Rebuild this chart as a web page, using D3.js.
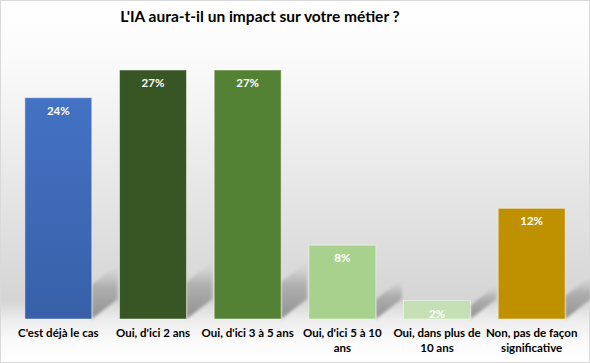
<!DOCTYPE html>
<html>
<head>
<meta charset="utf-8">
<script src="https://cdn.jsdelivr.net/npm/d3@7"></script>
<style>
  body { margin: 0; background: #fff; }
  svg { display: block; font-family: Lato, "Open Sans", sans-serif; }
</style>
</head>
<body>
<svg id="chart" width="590" height="363"></svg>
<script>
// data
var categories = ["C'est déjà le cas", "Oui, d'ici 2 ans", "Oui, d'ici 3 à 5 ans",
                  "Oui, d'ici 5 à 10 ans", "Oui, dans plus de 10 ans", "Non, pas de façon significative"];
var labelLines = [["C'est déjà le cas"], ["Oui, d'ici 2 ans"], ["Oui, d'ici 3 à 5 ans"],
                  ["Oui, d'ici 5 à 10", "ans"], ["Oui, dans plus de", "10 ans"], ["Non, pas de façon", "significative"]];
var values = [24, 27, 27, 8, 2, 12];
var colors = ["#4472c4", "#375623", "#548235", "#a9d18e", "#c5e0b4", "#bf9000"];
var bottomColors = ["#3760a8", "#375623", "#548235", "#a9d18e", "#c5e0b4", "#bf9000"];

var W = 590, H = 363;
var svg = d3.select("#chart");
var defs = svg.append("defs");

// background gradient (light top, grey toward floor, light under bars)
var bg = defs.append("linearGradient").attr("id", "bg")
    .attr("x1", 0).attr("y1", 0).attr("x2", 0).attr("y2", 1);
bg.append("stop").attr("offset", 0).attr("stop-color", "#ffffff");
bg.append("stop").attr("offset", 0.15).attr("stop-color", "#fbfbfb");
bg.append("stop").attr("offset", 0.83).attr("stop-color", "#d5d5d5");
bg.append("stop").attr("offset", 0.88).attr("stop-color", "#ececec");
bg.append("stop").attr("offset", 0.94).attr("stop-color", "#fafafa");
bg.append("stop").attr("offset", 1).attr("stop-color", "#ffffff");

var sh = defs.append("linearGradient").attr("id", "shadow")
    .attr("x1", 0).attr("y1", 1).attr("x2", 0).attr("y2", 0);
sh.append("stop").attr("offset", 0).attr("stop-color", "#8f8f8f").attr("stop-opacity", 1);
sh.append("stop").attr("offset", 0.6).attr("stop-color", "#a5a5a5").attr("stop-opacity", 0.8);
sh.append("stop").attr("offset", 1).attr("stop-color", "#bdbdbd").attr("stop-opacity", 0);

defs.append("filter").attr("id", "blur")
    .append("feGaussianBlur").attr("stdDeviation", 1.5);

colors.forEach(function(c, i) {
    var g = defs.append("linearGradient").attr("id", "bar" + i)
        .attr("x1", 0).attr("y1", 0).attr("x2", 0).attr("y2", 1);
    g.append("stop").attr("offset", 0).attr("stop-color", c);
    g.append("stop").attr("offset", 1).attr("stop-color", bottomColors[i]);
});

svg.append("rect").attr("x", 0.5).attr("y", 0.5)
    .attr("width", W - 1).attr("height", H - 1)
    .attr("fill", "url(#bg)").attr("stroke", "#d9d9d9");

svg.append("text").attr("x", 260).attr("y", 22)
    .attr("text-anchor", "middle")
    .attr("font-size", 15.5).attr("font-weight", "bold").attr("fill", "#000")
    .text("L'IA aura-t-il un impact sur votre métier ?");

var x = d3.scaleBand().domain(categories).range([11, 579])
    .paddingInner(0.293).paddingOuter(0.1465);
var y = d3.scaleLinear().domain([0, d3.max(values)]).range([319, 70]);

var data = categories.map(function(c, i) {
    return {cat: c, value: values[i], idx: i, lines: labelLines[i]};
});

// shadows cast behind the bars
svg.append("g").selectAll("path")
    .data(data)
    .enter()
    .append("path")
    .attr("d", function(d) {
        var r = x(d.cat) + x.bandwidth(), b = y(0);
        var h = Math.min(y(0) - y(d.value), 12 + (y(0) - y(d.value)) * 0.1);
        var dx = 26, dy = 20;
        return "M" + r + "," + b + "L" + r + "," + (b - h) +
               "L" + (r + dx) + "," + (b - h - dy) + "L" + (r + dx) + "," + (b - dy) + "Z";
    })
    .attr("fill", "url(#shadow)")
    .attr("filter", "url(#blur)");

svg.append("g").selectAll("rect")
    .data(data)
    .enter()
    .append("rect")
    .attr("x", function(d) { return x(d.cat); })
    .attr("y", function(d) { return y(d.value); })
    .attr("width", x.bandwidth())
    .attr("height", function(d) { return y(0) - y(d.value); })
    .attr("fill", function(d) { return "url(#bar" + d.idx + ")"; })
    .attr("stroke", "rgba(255,255,255,0.45)")
    .attr("stroke-width", 1);

svg.append("g").selectAll("text")
    .data(data)
    .enter()
    .append("text")
    .attr("x", function(d) { return x(d.cat) + x.bandwidth() / 2; })
    .attr("y", function(d) { return y(d.value) + 17; })
    .attr("text-anchor", "middle")
    .attr("font-size", 11.5).attr("font-weight", "bold").attr("fill", "#fff")
    .text(function(d) { return d.value + "%"; });

var lab = svg.append("g").selectAll("text")
    .data(data)
    .enter()
    .append("text")
    .attr("x", function(d) { return x(d.cat) + x.bandwidth() / 2; })
    .attr("y", 337)
    .attr("text-anchor", "middle")
    .attr("font-size", 11.5).attr("font-weight", "bold").attr("fill", "#000");
lab.selectAll("tspan")
    .data(function(d) { return d.lines.map(function(l) { return {t: l, cx: x(d.cat) + x.bandwidth() / 2}; }); })
    .enter()
    .append("tspan")
    .attr("x", function(d) { return d.cx; })
    .attr("dy", function(d, i) { return i ? 15 : 0; })
    .text(function(d) { return d.t; });
</script>
</body>
</html>
